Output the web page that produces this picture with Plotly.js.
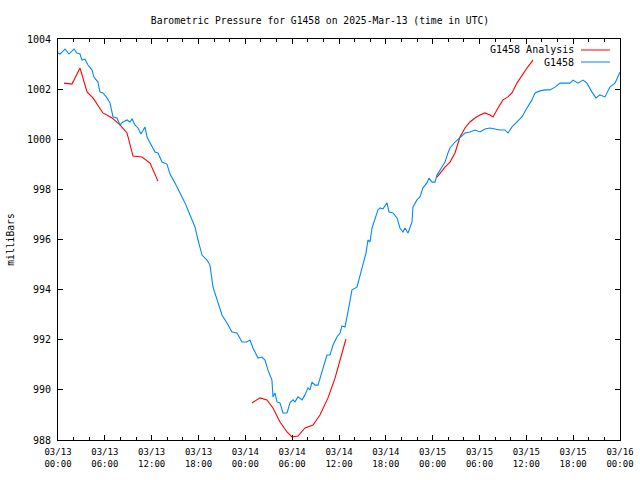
<!DOCTYPE html>
<html>
<head>
<meta charset="utf-8">
<script src="https://cdn.plot.ly/plotly-3.0.1.min.js"></script>
<style>html,body{margin:0;padding:0;background:#fff}#chart{width:640px;height:480px}</style>
</head>
<body>
<div id="chart"></div>
<script>
// Times are hours after 2025-03-13 00:00 UTC; pressures in milliBars
var baseTime = Date.UTC(2025, 2, 13, 0, 0, 0);

var stationHours = [0,0.26,0.90,1.41,2.05,2.43,2.82,3.07,3.46,3.84,4.36,4.61,5.12,5.38,5.76,6.28,6.66,7.05,7.56,7.94,8.33,8.84,9.22,9.48,9.86,10.25,10.63,11.15,11.40,11.79,12.43,12.81,13.32,13.96,14.35,14.99,15.63,16.27,16.91,17.55,17.94,18.45,19.09,19.47,19.86,20.50,21.01,21.65,22.29,22.93,23.57,24.21,24.60,24.98,25.62,26.13,26.52,26.90,27.41,27.54,27.80,28.06,28.44,28.82,29.34,29.72,30.11,30.36,30.75,31.26,31.64,32.03,32.28,32.54,32.92,33.31,33.82,34.20,34.46,34.85,35.23,35.74,36.13,36.38,36.77,37.15,37.66,38.30,38.69,39.07,39.46,39.71,39.97,40.23,40.61,40.99,41.25,41.63,42.15,42.40,42.92,43.43,43.81,44.20,44.45,44.84,45.35,45.48,45.99,46.37,46.76,47.27,47.53,47.91,48.30,48.55,49.19,49.58,49.96,50.22,50.86,51.50,52.14,52.78,53.42,54.06,54.70,55.34,55.98,56.62,57.26,57.65,58.16,58.80,59.44,60.08,60.72,61.11,61.75,62.39,63.03,63.67,64.31,64.95,65.59,65.98,66.62,67.26,67.77,68.41,68.92,69.43,70.07,70.71,71.36,72.00];
var stationPressure = [1003.44,1003.40,1003.60,1003.40,1003.60,1003.44,1003.40,1003.16,1003.20,1002.96,1002.76,1002.48,1002.28,1001.88,1001.85,1001.65,1001.45,1000.89,1000.85,1000.57,1000.69,1000.77,1000.69,1000.81,1000.57,1000.45,1000.21,1000.49,1000.09,999.85,999.49,999.45,999.09,999.01,998.61,998.25,997.85,997.46,996.98,996.50,995.98,995.38,995.18,994.98,994.10,993.47,992.99,992.67,992.31,992.27,991.91,991.91,991.99,991.67,991.27,991.31,991.19,990.79,990.39,989.72,989.88,989.52,989.48,989.08,989.08,989.48,989.60,989.52,989.72,989.60,989.80,990.08,990.00,990.31,990.19,990.19,990.71,991.07,991.39,991.39,991.79,992.11,992.27,992.55,992.51,993.11,993.99,994.10,994.58,995.06,995.46,995.98,995.90,996.46,996.78,997.18,997.26,997.22,997.46,997.10,997.06,996.86,996.46,996.30,996.46,996.26,996.70,997.30,997.58,997.70,998.06,998.26,998.45,998.29,998.29,998.57,998.89,999.09,999.45,999.65,999.89,1000.09,1000.25,1000.29,1000.37,1000.29,1000.41,1000.45,1000.41,1000.37,1000.37,1000.25,1000.49,1000.69,1000.89,1001.25,1001.57,1001.85,1001.93,1001.97,1001.97,1002.08,1002.24,1002.24,1002.24,1002.36,1002.24,1002.36,1002.24,1001.88,1001.65,1001.77,1001.69,1002.08,1002.24,1002.68];

// Analysis: three 12-hour segments (null separates them)
var analysisHours = [0.77,1.79,2.82,3.72,4.48,5.76,6.92,7.94,8.84,9.61,10.76,11.79,12.81,
  null,
  24.85,25.88,26.77,27.54,28.44,29.34,29.98,30.75,31.64,32.67,33.56,34.59,35.49,36.13,36.89,
  null,
  48.55,49.58,50.22,50.86,51.50,52.14,52.78,53.42,54.06,54.70,55.34,55.73,56.37,57.01,57.65,58.16,58.80,59.44,60.08,60.85];
var analysisPressure = [1002.24,1002.20,1002.84,1001.89,1001.65,1001.05,1000.85,1000.57,1000.25,999.33,999.29,999.05,998.33,
  null,
  989.48,989.68,989.60,989.28,988.72,988.32,988.12,988.16,988.48,988.60,989.00,989.68,990.47,991.19,992.03,
  null,
  998.49,998.89,999.09,999.45,1000.09,1000.45,1000.69,1000.85,1000.97,1001.05,1000.97,1000.89,1001.25,1001.57,1001.69,1001.85,1002.24,1002.56,1002.84,1003.16];

var seriesNames = ['G1458 Analysis', 'G1458'];
var seriesColors = ['#ff0000', '#0088ff'];

function pad(n){ return (n < 10 ? '0' : '') + n; }
function toTime(h){
  if (h === null) return null;
  var d = new Date(baseTime + h * 3600000);
  return d.getUTCFullYear() + '-' + pad(d.getUTCMonth()+1) + '-' + pad(d.getUTCDate()) + ' ' +
         pad(d.getUTCHours()) + ':' + pad(d.getUTCMinutes()) + ':' + pad(d.getUTCSeconds());
}

var traces = [
  {x: analysisHours.map(toTime), y: analysisPressure, type: 'scatter', mode: 'lines',
   name: seriesNames[0], connectgaps: false, line: {color: seriesColors[0], width: 1.1}, showlegend: false},
  {x: stationHours.map(toTime), y: stationPressure, type: 'scatter', mode: 'lines',
   name: seriesNames[1], line: {color: seriesColors[1], width: 1.1}, showlegend: false}
];

var mono = 'DejaVu Sans Mono, monospace';
var legendY = [0.9726, 0.9426];
var annotations = [], shapes = [];
for (var i = 0; i < seriesNames.length; i++) {
  annotations.push({xref: 'paper', yref: 'paper', x: 0.922, y: legendY[i], xanchor: 'right', yanchor: 'middle',
    text: seriesNames[i], showarrow: false, font: {family: mono, size: 10, color: '#000'}});
  shapes.push({type: 'line', xref: 'paper', yref: 'paper', x0: 0.9306, x1: 0.9822, y0: legendY[i], y1: legendY[i],
    line: {color: seriesColors[i], width: 1}});
}

var layout = {
  width: 640, height: 480,
  margin: {l: 58, r: 20, t: 39, b: 40, pad: 0},
  paper_bgcolor: '#fff', plot_bgcolor: '#fff',
  title: {text: 'Barometric Pressure for G1458 on 2025-Mar-13 (time in UTC)',
          font: {family: mono, size: 9.7, color: '#000'}, x: 0.5, xanchor: 'center', y: 0.958, yanchor: 'middle'},
  xaxis: {
    type: 'date', range: [toTime(0), toTime(72)],
    tick0: toTime(0), dtick: 6 * 3600000, tickformat: '%m/%d<br>%H:%M',
    ticks: 'inside', ticklen: 5, tickwidth: 1, tickcolor: '#000',
    minor: {dtick: 2 * 3600000, ticks: 'inside', ticklen: 3, tickwidth: 1, tickcolor: '#000', showgrid: false},
    showline: true, linecolor: '#000', linewidth: 1, mirror: 'allticks',
    showgrid: false, zeroline: false,
    ticklabelstandoff: 3,
    tickfont: {family: mono, size: 9, color: '#000'}
  },
  yaxis: {
    range: [988, 1004], dtick: 2, tick0: 988,
    ticks: 'inside', ticklen: 5, tickwidth: 1, tickcolor: '#000',
    showline: true, linecolor: '#000', linewidth: 1, mirror: 'allticks',
    showgrid: false, zeroline: false,
    tickfont: {family: mono, size: 10, color: '#000'},
    ticklabelstandoff: 4,
    title: {text: 'milliBars', font: {family: mono, size: 9.7, color: '#000'}, standoff: 10}
  },
  annotations: annotations,
  shapes: shapes
};

Plotly.newPlot('chart', traces, layout, {displayModeBar: false, staticPlot: true});
</script>
</body>
</html>
